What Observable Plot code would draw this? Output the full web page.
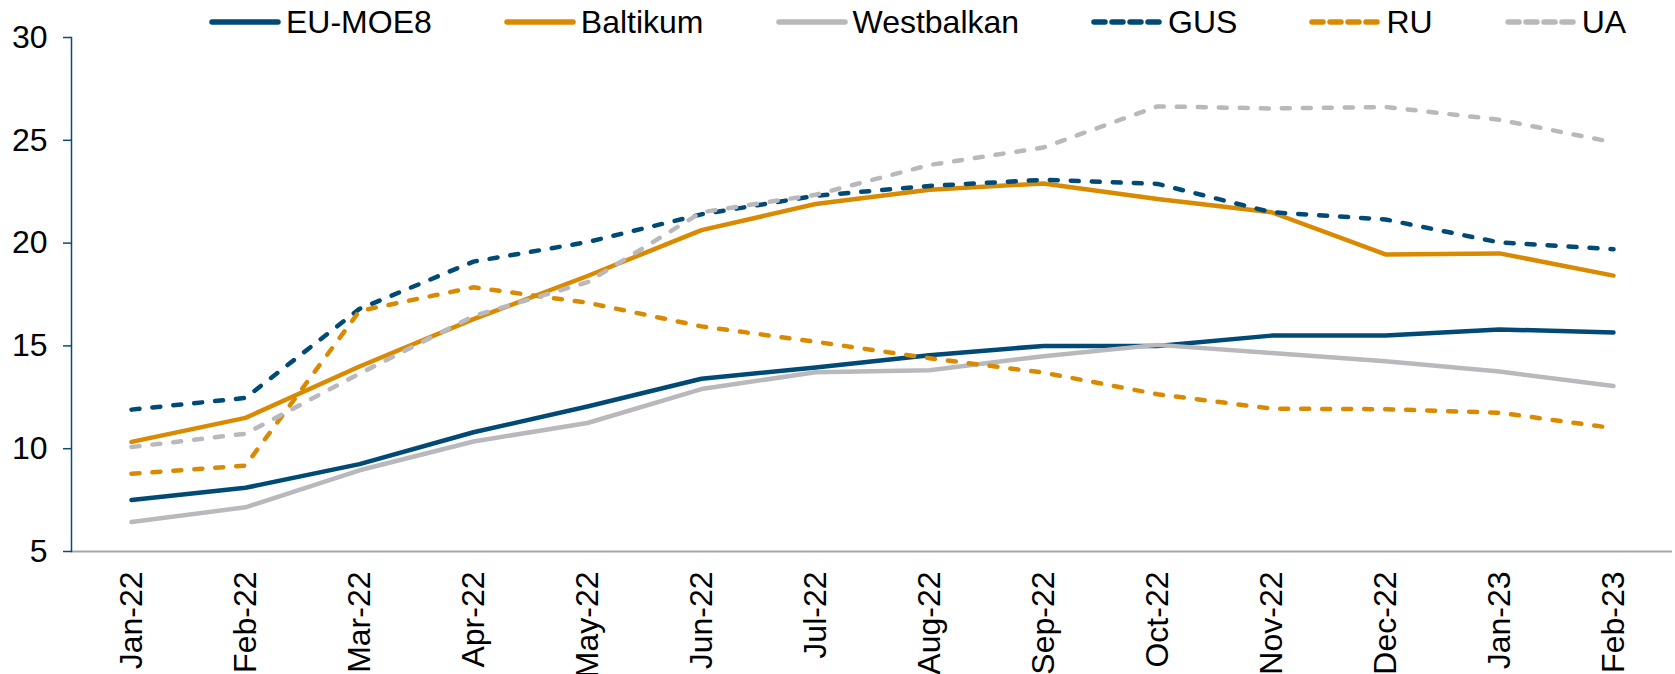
<!DOCTYPE html>
<html><head><meta charset="utf-8">
<script src="https://cdn.jsdelivr.net/npm/d3@7"></script>
<script src="https://cdn.jsdelivr.net/npm/@observablehq/plot@0.6"></script>
<style>
body{margin:0;background:#fff;font-family:"Liberation Sans",Arial,sans-serif;}
#wrap{position:relative;width:1675px;height:674px;overflow:hidden;}
#legend{position:absolute;top:6px;left:209px;display:flex;gap:72px;font-size:32px;line-height:32px;color:#000;white-space:nowrap;}
.item{display:flex;align-items:center;gap:5px;}
#chart{position:absolute;top:0;left:0;}
</style></head>
<body><div id="wrap"><div id="chart"></div><div id="legend"></div></div>
<script>
const months = ["Jan-22","Feb-22","Mar-22","Apr-22","May-22","Jun-22","Jul-22","Aug-22","Sep-22","Oct-22","Nov-22","Dec-22","Jan-23","Feb-23"];
const seriesNames = ["EU-MOE8","Baltikum","Westbalkan","GUS","RU","UA"];
const euMoe8     = [7.5, 8.1, 9.25, 10.8, 12.05, 13.4, 13.95, 14.55, 15.0, 15.0, 15.5, 15.5, 15.8, 15.65];
const baltikum   = [10.33, 11.5, 14.0, 16.3, 18.4, 20.63, 21.9, 22.6, 22.9, 22.15, 21.5, 19.45, 19.5, 18.42];
const westbalkan = [6.43, 7.15, 8.95, 10.35, 11.25, 12.9, 13.72, 13.82, 14.5, 15.05, 14.65, 14.25, 13.75, 13.05];
const gus        = [11.9, 12.47, 16.8, 19.1, 20.05, 21.4, 22.3, 22.78, 23.08, 22.88, 21.5, 21.15, 20.03, 19.7];
const ru         = [8.78, 9.18, 16.7, 17.85, 17.1, 15.95, 15.2, 14.4, 13.7, 12.65, 11.95, 11.92, 11.75, 11.0];
const ua         = [10.08, 10.73, 13.65, 16.45, 18.1, 21.5, 22.35, 23.8, 24.65, 26.65, 26.55, 26.62, 26.0, 24.9];
const yTicks = [5, 10, 15, 20, 25, 30];

const seriesValues = [euMoe8, baltikum, westbalkan, gus, ru, ua];
const colors = ["#004a75", "#d98a00", "#b9b9bd", "#004a75", "#d98a00", "#b9b9bd"];
const dashedFlags = [false, false, false, true, true, true];

const lineMarks = seriesNames.map((name, i) => {
  const data = months.map((m, j) => ({month: m, value: seriesValues[i][j]}));
  return Plot.line(data, {
    x: "month", y: "value",
    stroke: colors[i], strokeWidth: 4.5,
    strokeLinecap: "round", strokeLinejoin: "round",
    strokeDasharray: dashedFlags[i] ? "8,13" : null
  });
});

const chart = Plot.plot({
  width: 1675, height: 674,
  marginLeft: 71, marginRight: 3, marginTop: 37, marginBottom: 123,
  style: {fontFamily: "'Liberation Sans', Arial, sans-serif", fontSize: "32px", color: "#000", background: "#fff"},
  x: {type: "point", domain: months, padding: 0.5},
  y: {domain: [5, 30]},
  marks: [
    Plot.ruleY([5], {stroke: "#a6a6a6", strokeWidth: 2}),
    Plot.frame({anchor: "left", stroke: "#0d4a70", strokeWidth: 1.5}),
    Plot.axisY({ticks: yTicks, tickSize: 8, tickPadding: 16, stroke: "#0d4a70", fill: "#000", strokeWidth: 1.5, label: null, fontSize: 32}),
    Plot.axisX({tickSize: 0, tickRotate: -90, tickPadding: 20, label: null, fontSize: 32, fill: "#000"}),
    ...lineMarks
  ]
});
document.getElementById("chart").appendChild(chart);

const legend = document.getElementById("legend");
seriesNames.forEach((name, i) => {
  const item = document.createElement("div");
  item.className = "item";
  const dash = dashedFlags[i] ? ' stroke-dasharray="11,7"' : '';
  item.innerHTML = `<svg width="72" height="12"><line x1="3" y1="6" x2="69" y2="6" stroke="${colors[i]}" stroke-width="5.5" stroke-linecap="round"${dash}/></svg><span>${name}</span>`;
  legend.appendChild(item);
});
</script>
</body></html>
